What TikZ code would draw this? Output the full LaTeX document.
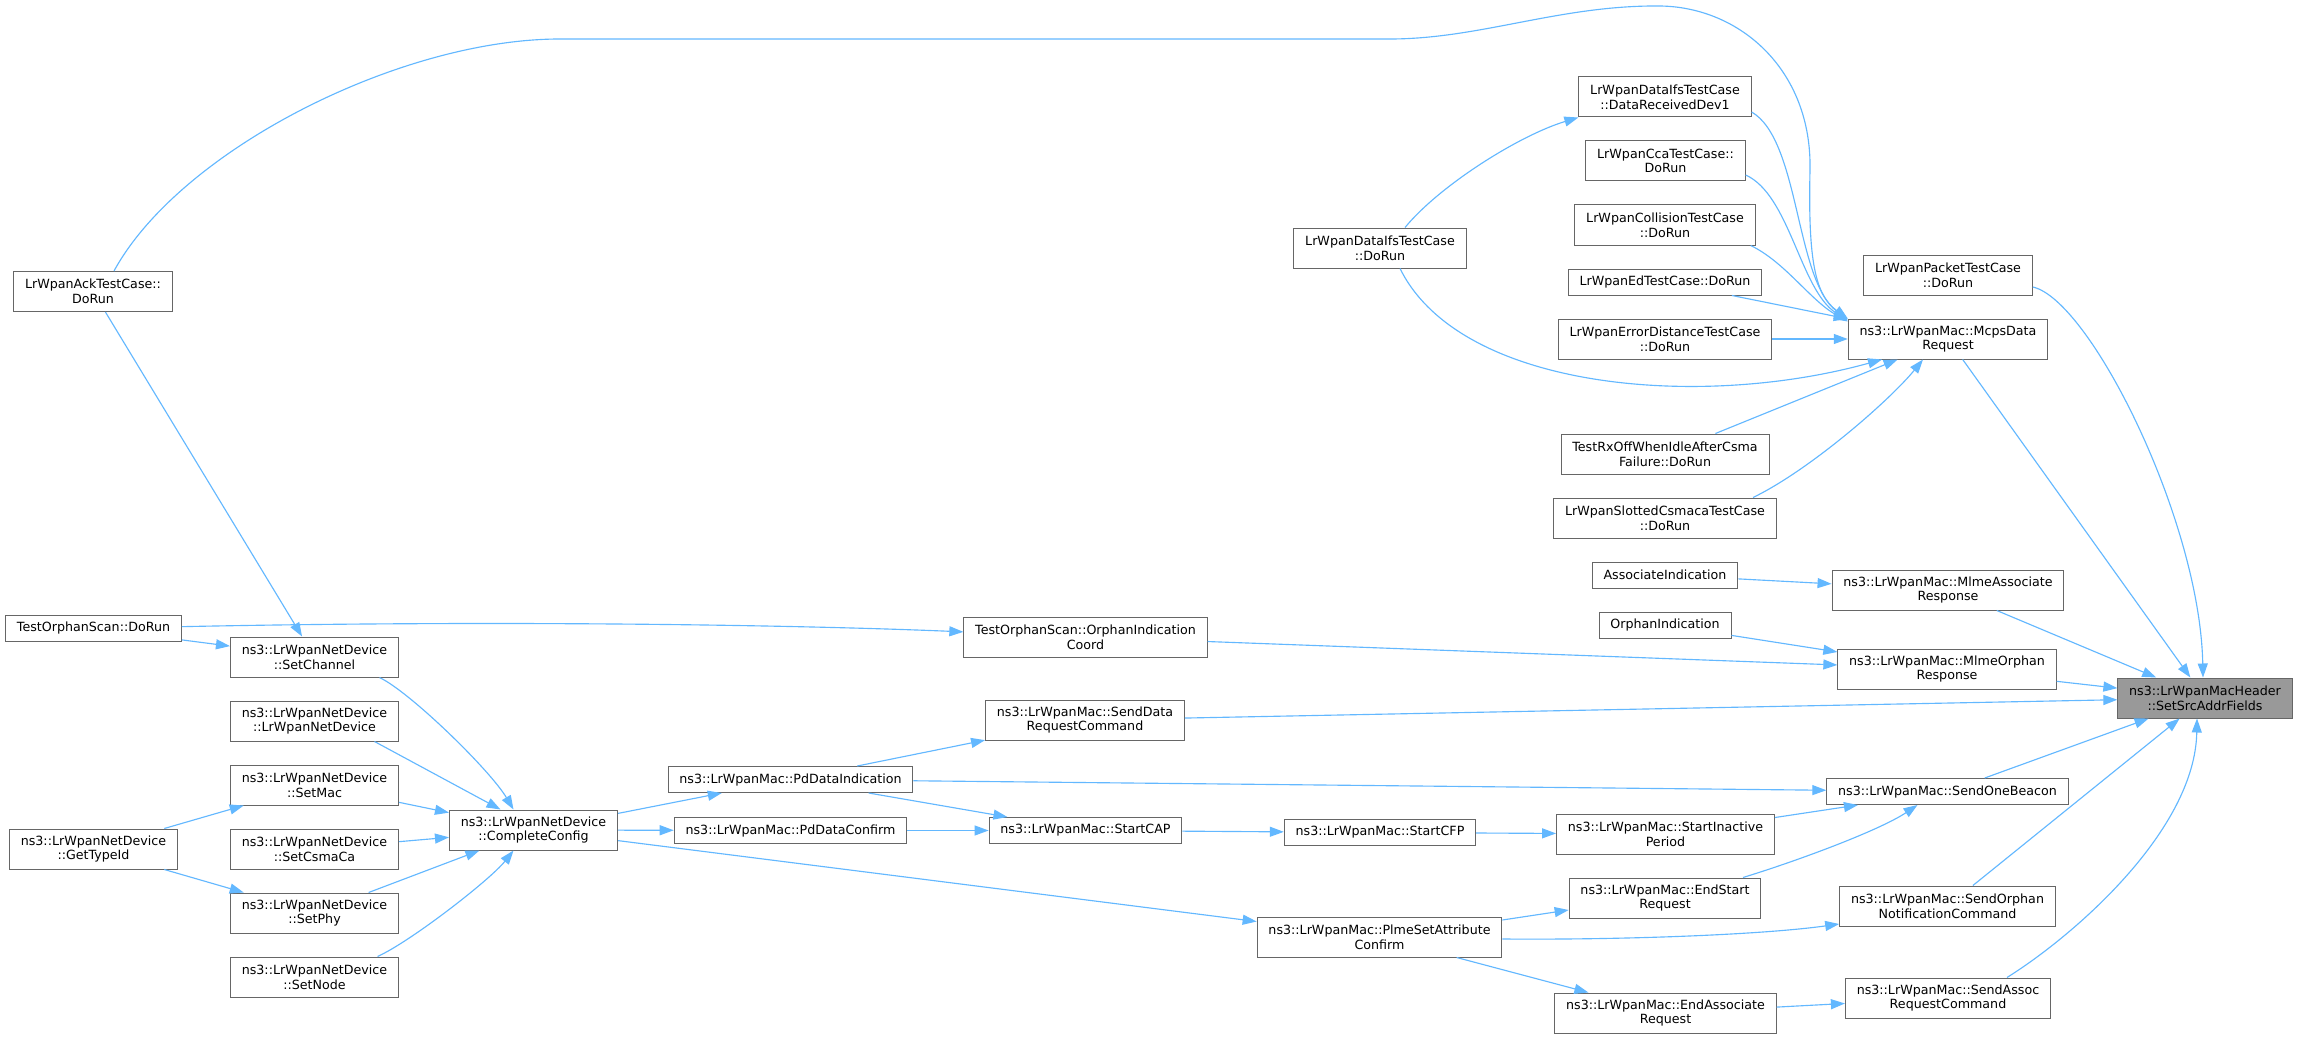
\documentclass[tikz,border=0pt]{standalone}
\usepackage{fontspec}
\setmainfont{DejaVu Sans}
\usetikzlibrary{arrows.meta,calc}
\definecolor{edgeblue}{HTML}{63B8FF}
\definecolor{boxgrey}{HTML}{666666}
\definecolor{rootgrey}{HTML}{999999}
\tikzset{>={Triangle[length=10.5pt,width=7.5pt]}}
\tikzset{
  fn/.style={draw=boxgrey, line width=0.75pt, fill=white, align=center, inner xsep=8.5pt, inner ysep=0pt, minimum height=19.5pt, font=\fontsize{9.5}{11}\selectfont},
  fntwo/.style={fn, minimum height=30pt},
  root/.style={fntwo, fill=rootgrey},
  call/.style={->, draw=edgeblue, line width=0.85pt}
}

\begin{document}
\begin{tikzpicture}[x=0.75pt,y=-0.75pt]
\useasboundingbox[fill=white] (0,0) rectangle (2299,1038);
\node[fntwo] (ack) at (93,291.5) {LrWpanAckTestCase::\\DoRun};
\node[fn] (orphdorun) at (93.5,628.5) {TestOrphanScan::DoRun};
\node[fntwo] (typeid) at (93.5,849) {ns3::LrWpanNetDevice\\::GetTypeId};
\node[fntwo] (setchan) at (314.5,657) {ns3::LrWpanNetDevice\\::SetChannel};
\node[fntwo] (netdev) at (314.5,721) {ns3::LrWpanNetDevice\\::LrWpanNetDevice};
\node[fntwo] (setmac) at (314.5,785) {ns3::LrWpanNetDevice\\::SetMac};
\node[fntwo] (setcsma) at (314.5,849) {ns3::LrWpanNetDevice\\::SetCsmaCa};
\node[fntwo] (setphy) at (314.5,913) {ns3::LrWpanNetDevice\\::SetPhy};
\node[fntwo] (setnode) at (314.5,977) {ns3::LrWpanNetDevice\\::SetNode};
\node[fntwo] (config) at (533.5,830) {ns3::LrWpanNetDevice\\::CompleteConfig};
\node[fn] (pdind) at (790.5,779.5) {ns3::LrWpanMac::PdDataIndication};
\node[fn] (pdconf) at (790.5,830.5) {ns3::LrWpanMac::PdDataConfirm};
\node[fntwo] (orphcoord) at (1085.5,637) {TestOrphanScan::OrphanIndication\\Coord};
\node[fntwo] (senddata) at (1085,720) {ns3::LrWpanMac::SendData\\RequestCommand};
\node[fn] (startcap) at (1085.5,830.5) {ns3::LrWpanMac::StartCAP};
\node[fntwo] (ifsrun) at (1380,248) {LrWpanDataIfsTestCase\\::DoRun};
\node[fn] (startcfp) at (1380,832.5) {ns3::LrWpanMac::StartCFP};
\node[fntwo] (plme) at (1379.5,937) {ns3::LrWpanMac::PlmeSetAttribute\\Confirm};
\node[fntwo] (ifsdev1) at (1665,97) {LrWpanDataIfsTestCase\\::DataReceivedDev1};
\node[fntwo] (ccarun) at (1665.5,161) {LrWpanCcaTestCase::\\DoRun};
\node[fntwo] (collrun) at (1665,225) {LrWpanCollisionTestCase\\::DoRun};
\node[fn] (edrun) at (1665,282) {LrWpanEdTestCase::DoRun};
\node[fntwo] (errrun) at (1665,339) {LrWpanErrorDistanceTestCase\\::DoRun};
\node[fntwo] (rxoffrun) at (1665,454) {TestRxOffWhenIdleAfterCsma\\Failure::DoRun};
\node[fntwo] (slotrun) at (1665,518) {LrWpanSlottedCsmacaTestCase\\::DoRun};
\node[fn] (assocind) at (1665,575) {AssociateIndication};
\node[fn] (orphind) at (1665,625) {OrphanIndication};
\node[fntwo] (inactive) at (1665.5,834) {ns3::LrWpanMac::StartInactive\\Period};
\node[fntwo] (endstart) at (1665,898) {ns3::LrWpanMac::EndStart\\Request};
\node[fntwo] (endassoc) at (1665.5,1013) {ns3::LrWpanMac::EndAssociate\\Request};
\node[fntwo] (packetrun) at (1948,275) {LrWpanPacketTestCase\\::DoRun};
\node[fntwo] (mcps) at (1948,339) {ns3::LrWpanMac::McpsData\\Request};
\node[fntwo] (assocresp) at (1948,590) {ns3::LrWpanMac::MlmeAssociate\\Response};
\node[fntwo] (orphresp) at (1947,669) {ns3::LrWpanMac::MlmeOrphan\\Response};
\node[fn] (beacon) at (1947.5,791.5) {ns3::LrWpanMac::SendOneBeacon};
\node[fntwo] (orphnotif) at (1947.5,906) {ns3::LrWpanMac::SendOrphan\\NotificationCommand};
\node[fntwo] (assocreq) at (1948,998) {ns3::LrWpanMac::SendAssoc\\RequestCommand};
\node[root] (srcaddr) at (2205,698) {ns3::LrWpanMacHeader\\::SetSrcAddrFields};
\draw[call] ($(packetrun.east)+(0,12)$) .. controls (2090,300) and (2200,520) .. ($(srcaddr.north)+(-2,0)$);
\draw[call] (mcps) -- (srcaddr);
\draw[call] (assocresp) -- (srcaddr);
\draw[call] (orphresp) -- (srcaddr);
\draw[call] (senddata) -- (srcaddr);
\draw[call] (beacon) -- (srcaddr);
\draw[call] (orphnotif) -- (srcaddr);
\draw[call] ($(assocreq.north)+(59,0)$) .. controls (2075,935) and (2195,830) .. ($(srcaddr.south)+(-8,0)$);
\draw[call] ($(ack.north)+(21,0)$) .. controls (180,150) and (400,39) .. (560,39) -- (1390,39) .. controls (1480,39) and (1560,5) .. (1660,6) .. controls (1740,7) and (1812,70) .. (1810,170) .. controls (1808,260) and (1815,295) .. (mcps.north west);
\draw[call] ($(ifsdev1.east)+(0,15)$) .. controls (1800,140) and (1795,280) .. ($(mcps.north west)+(0,1)$);
\draw[call] ($(ccarun.east)+(0,14)$) .. controls (1790,195) and (1800,290) .. ($(mcps.north west)+(0,2)$);
\draw[call] ($(collrun.south east)+(-5,0)$) .. controls (1785,262) and (1810,300) .. ($(mcps.north west)+(0,3)$);
\draw[call] (edrun) -- (mcps);
\draw[call] (errrun) -- (mcps);
\draw[call] ($(ifsrun.south)+(20,0)$) .. controls (1460,390) and (1700,410) .. ($(mcps.south)+(-66,0)$);
\draw[call] (rxoffrun) -- (mcps);
\draw[call] ($(slotrun.north)+(88,0)$) .. controls (1810,470) and (1890,400) .. ($(mcps.south)+(-25,0)$);
\draw[call] ($(ifsrun.north)+(25,0)$) .. controls (1440,185) and (1520,135) .. (ifsdev1.south west);
\draw[call] (assocind) -- (assocresp);
\draw[call] (orphind) -- (orphresp);
\draw[call] (orphcoord) -- (orphresp);
\draw[call] (orphdorun) .. controls (500,620) and (800,625) .. (orphcoord);
\draw[call] (orphdorun) -- (setchan);
\draw[call] (ack) -- (setchan);
\draw[call] (typeid) -- (setmac);
\draw[call] (typeid) -- (setphy);
\draw[call] ($(setchan.south)+(65,0)$) .. controls (410,692) and (490,770) .. ($(config.north)+(-20,0)$);
\draw[call] ($(netdev.south)+(60,0)$) -- ($(config.north)+(-33,0)$);
\draw[call] (setmac) -- (config);
\draw[call] (setcsma) -- (config);
\draw[call] (setphy) -- (config);
\draw[call] ($(setnode.north)+(63,0)$) .. controls (410,942) and (490,880) .. ($(config.south)+(-20,0)$);
\draw[call] (config) -- (pdind);
\draw[call] (config) -- (pdconf);
\draw[call] (config) -- (plme);
\draw[call] (pdind) -- (senddata);
\draw[call] (pdind) -- (startcap);
\draw[call] (pdind) -- (beacon);
\draw[call] (pdconf) -- (startcap);
\draw[call] (startcap) -- (startcfp);
\draw[call] (startcfp) -- (inactive);
\draw[call] (inactive) -- (beacon);
\draw[call] ($(endstart.north)+(78,0)$) .. controls (1800,860) and (1880,830) .. ($(beacon.south)+(-30,0)$);
\draw[call] ($(plme.east)+(0,-17)$) -- ($(endstart.west)+(0,12)$);
\draw[call] ($(plme.east)+(0,2)$) .. controls (1620,940) and (1760,935) .. ($(orphnotif.west)+(0,18)$);
\draw[call] (plme) -- (endassoc);
\draw[call] (endassoc) -- (assocreq);
\end{tikzpicture}
\end{document}
